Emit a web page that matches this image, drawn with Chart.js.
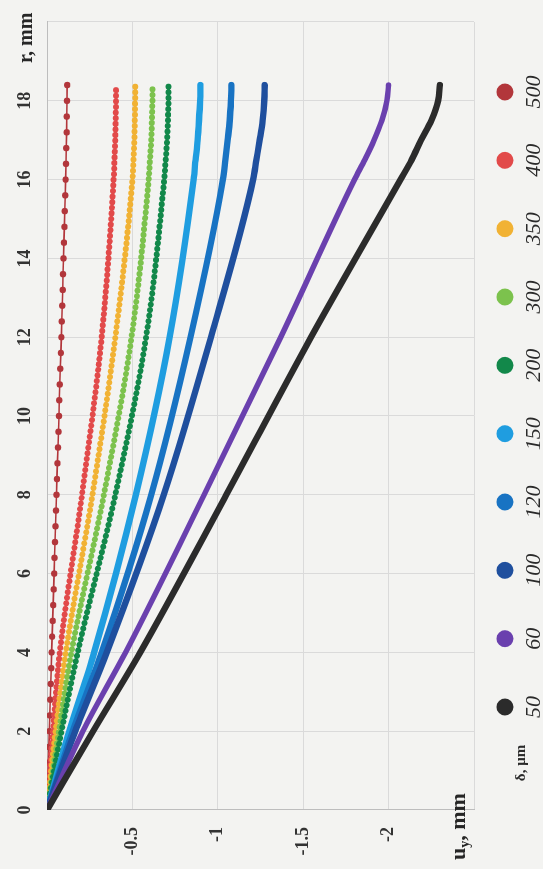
<!DOCTYPE html>
<html>
<head>
<meta charset="utf-8">
<script src="https://cdn.jsdelivr.net/npm/chart.js@4.4.1/dist/chart.umd.min.js"></script>
<style>
  html, body { margin:0; padding:0; width:543px; height:869px; overflow:hidden; background:#f3f3f1; }
  #wrap { position:absolute; left:-163px; top:163px; width:869px; height:543px; transform:rotate(-90deg); }
  canvas { display:block; }
</style>
</head>
<body>
<div id="wrap"><canvas id="c" width="869" height="543"></canvas></div>
<script>
// ---- data ----
const deltaLabels = ['50','60','100','120','150','200','300','350','400','500'];

// r positions (mm) of the readings for the dense curves
const rKnots = [0, 2, 4, 8, 12, 16, 16.5, 17, 17.5, 18, 18.4];
const u50  = [0, -0.27, -0.546, -1.05, -1.546, -2.07, -2.135, -2.19, -2.25, -2.29, -2.30];
const u60  = [0, -0.21, -0.46, -0.92, -1.368, -1.80, -1.86, -1.915, -1.96, -1.99, -2.0];
const u100 = [0, -0.165, -0.35, -0.684, -0.96, -1.207, -1.226, -1.245, -1.262, -1.272, -1.275];
const u120 = [0, -0.15, -0.32, -0.61, -0.84, -1.03, -1.045, -1.058, -1.07, -1.077, -1.08];
const u150 = [0, -0.13, -0.276, -0.52, -0.718, -0.858, -0.87, -0.882, -0.89, -0.896, -0.898];
const u200 = [0, -0.085, -0.18, -0.40, -0.58, -0.686, -0.695, -0.703, -0.708, -0.711, -0.712];
const u300 = [0, -0.07, -0.143, -0.333, -0.495, -0.595, -0.603, -0.61, -0.614, -0.617, -0.618];
const u350 = [0, -0.05, -0.11, -0.266, -0.40, -0.50, -0.506, -0.511, -0.514, -0.516, -0.517];
const u400 = [0, -0.035, -0.075, -0.205, -0.32, -0.39, -0.395, -0.399, -0.402, -0.404, -0.405];

// 500 µm series: every marker (step 0.4 mm)
const r500 = [0,0.4,0.8,1.2,1.6,2.0,2.4,2.8,3.2,3.6,4.0,4.4,4.8,5.2,5.6,6.0,6.4,6.8,7.2,7.6,8.0,8.4,8.8,9.2,9.6,10.0,10.4,10.8,11.2,11.6,12.0,12.4,12.8,13.2,13.6,14.0,14.4,14.8,15.2,15.6,16.0,16.4,16.8,17.2,17.6,18.0,18.4];
const u500 = [0,-0.003,-0.005,-0.008,-0.011,-0.014,-0.016,-0.019,-0.022,-0.025,-0.027,-0.030,-0.033,-0.036,-0.039,-0.042,-0.044,-0.047,-0.050,-0.053,-0.056,-0.058,-0.061,-0.064,-0.067,-0.070,-0.072,-0.075,-0.078,-0.081,-0.084,-0.086,-0.089,-0.092,-0.094,-0.097,-0.099,-0.102,-0.104,-0.107,-0.109,-0.111,-0.113,-0.115,-0.116,-0.117,-0.118];

const rTickLabels = [0, 2, 4, 6, 8, 10, 12, 14, 16, 18];
const uTickLabels = [-0.5, -1, -1.5, -2];

// ---- styles ----
const seriesValues = { '50':u50, '60':u60, '100':u100, '120':u120, '150':u150, '200':u200, '300':u300, '350':u350, '400':u400 };
const colors = { '50':'#2b2b2b', '60':'#6a40ae', '100':'#1f4f9e', '120':'#1873c3', '150':'#1f9de0',
                 '200':'#12884a', '300':'#7cc24d', '350':'#f1b234', '400':'#e24a4a', '500':'#b2363b' };
const beaded = ['200','300','350','400'];

const datasets = deltaLabels.map(lab => {
  const col = colors[lab];
  if (lab === '500') {
    return { label: lab, data: r500.map((r,i)=>({x:r, y:u500[i]})), showLine:true,
      borderColor: col, backgroundColor: col, borderWidth: 1.6,
      pointRadius: 3.2, pointBackgroundColor: col, pointBorderWidth: 0, pointHoverRadius: 3.2 };
  }
  const vals = seriesValues[lab];
  const ds = { label: lab, data: rKnots.map((r,i)=>({x:r, y:vals[i]})), showLine:true,
    borderColor: col, backgroundColor: col, borderWidth: lab==='60' ? 5.5 : 6.3,
    cubicInterpolationMode: 'monotone', pointRadius: 0, borderCapStyle: 'round', borderJoinStyle:'round' };
  if (beaded.includes(lab)) { ds.borderDash = [0.01, 5.6]; ds.borderWidth = 6; }
  return ds;
});

const overlay = {
  id: 'overlay',
  afterDraw(chart) {
    const { ctx, scales: { x, y } } = chart;
    ctx.save();
    ctx.fillStyle = '#262626';
    ctx.textBaseline = 'middle';
    ctx.textAlign = 'left';
    // r axis title
    ctx.font = 'bold 20px "Liberation Serif"';
    ctx.fillText('r, mm', x.getPixelForValue(20) - 41, 27);
    // u axis title
    let px = 9, py = y.getPixelForValue(-2.5) - 15;
    ctx.font = 'bold 22px "Liberation Serif"';
    ctx.fillText('u', px, py); px += ctx.measureText('u').width;
    ctx.font = 'bold 14px "Liberation Serif"';
    ctx.fillText('y', px, py + 6); px += ctx.measureText('y').width;
    ctx.font = 'bold 22px "Liberation Serif"';
    ctx.fillText(', mm', px, py);
    // legend: marker above, label below
    const x0 = 162, step = (777 - 162) / (deltaLabels.length - 1);
    deltaLabels.forEach((lab, i) => {
      const cx = x0 + step * i;
      ctx.beginPath();
      ctx.fillStyle = colors[lab];
      ctx.arc(cx, 505, 8.5, 0, Math.PI * 2);
      ctx.fill();
      ctx.fillStyle = '#2a2a2a';
      ctx.font = 'italic 22px "Liberation Serif"';
      ctx.textAlign = 'center';
      ctx.fillText(lab, cx, 534);
    });
    ctx.font = 'bold 15px "Liberation Serif"';
    ctx.textAlign = 'center';
    ctx.fillStyle = '#2a2a2a';
    ctx.fillText('δ, μm', 106, 521);
    ctx.restore();
  }
};

new Chart(document.getElementById('c'), {
  type: 'scatter',
  data: { datasets },
  options: {
    responsive: false,
    devicePixelRatio: 1,
    animation: false,
    layout: { padding: { left: 0, top: 0, right: 22, bottom: 69 } },
    plugins: { legend: { display: false }, tooltip: { enabled: false } },
    scales: {
      x: {
        type: 'linear', position: 'top', min: 0, max: 20,
        afterFit(s) { s.height = 47; },
        grid: { color: '#dadada', lineWidth: 1, drawTicks: false },
        border: { display: true, color: '#bdbdbd', width: 1 },
        ticks: { stepSize: 2, padding: 11, color: '#333',
          font: { family: '"Liberation Serif"', size: 18, weight: 'bold' },
          maxRotation: 0, autoSkip: false,
          callback: v => rTickLabels.includes(v) ? String(v) : '' }
      },
      y: {
        type: 'linear', min: -2.5, max: 0,
        afterFit(s) { s.width = 59; },
        grid: { color: '#dadada', lineWidth: 1, drawTicks: false },
        border: { display: true, color: '#bdbdbd', width: 1 },
        ticks: { stepSize: 0.5, padding: 17, color: '#333',
          font: { family: '"Liberation Serif"', size: 18, weight: 'bold' },
          autoSkip: false,
          callback: v => uTickLabels.includes(v) ? String(v) : '' }
      }
    }
  },
  plugins: [overlay]
});
</script>
</body>
</html>
